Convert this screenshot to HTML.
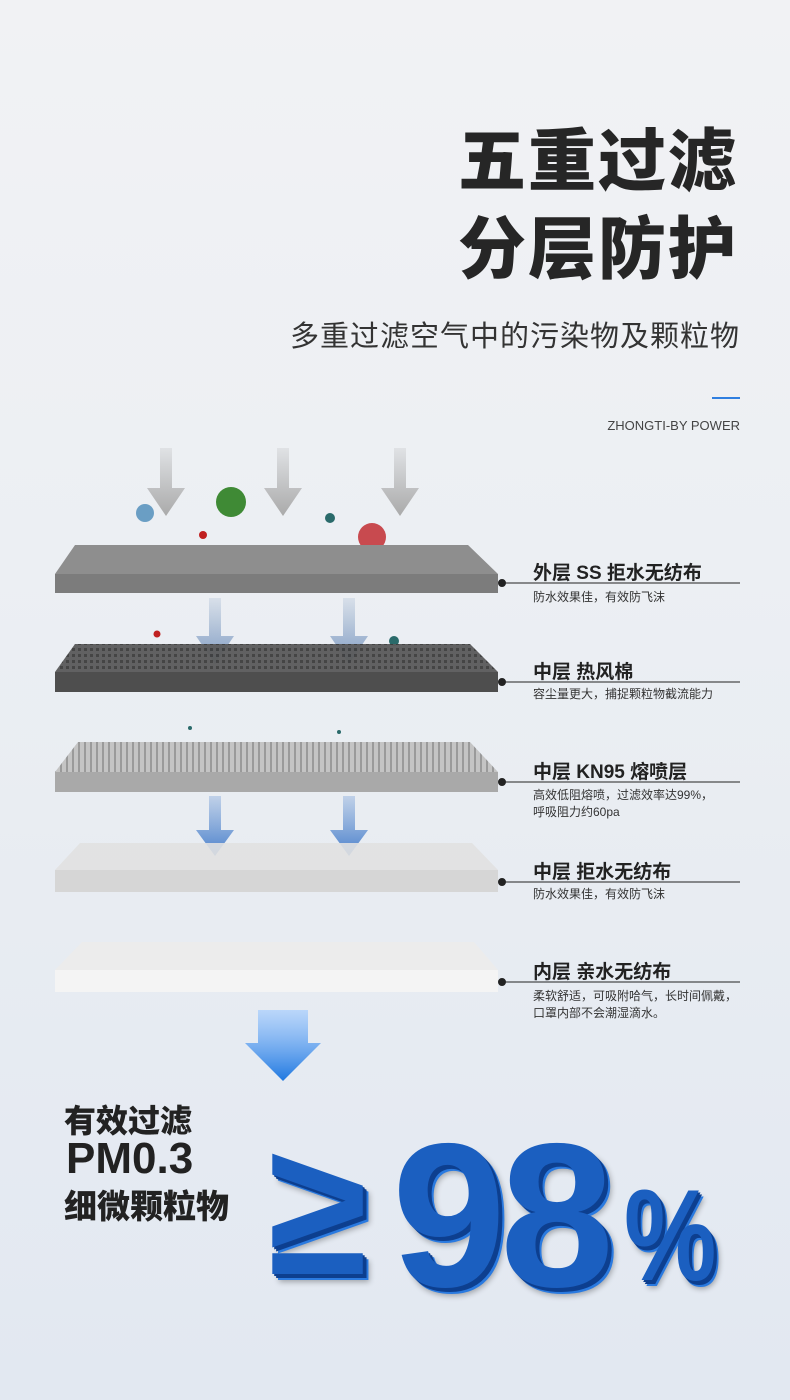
<!DOCTYPE html>
<html><head><meta charset="utf-8"><style>
body{margin:0;width:790px;height:1400px;overflow:hidden;background:linear-gradient(180deg,#f1f2f4 0%,#eceff3 40%,#e2e8f1 100%);font-family:"Liberation Sans","Noto Sans CJK SC",sans-serif;position:relative}
.a{position:absolute;white-space:nowrap}
.t{font-size:68px;font-weight:900;color:#262626;right:52px;letter-spacing:2px}
.lab{left:533px;font-size:19px;font-weight:bold;color:#222}
.desc{left:533px;font-size:12px;color:#333;line-height:17px}
.big{font-weight:900;color:#1b5fc0;font-family:"Liberation Sans",sans-serif;text-shadow:2px 2px 0 #0d3f8f,4px 4px 0 #0d3f8f,6px 6px 0 #2a7ae0,7px 8px 6px rgba(0,0,0,.3)}
</style></head><body>
<div class="a t" style="top:106px">五重过滤</div>
<div class="a t" style="top:194px">分层防护</div>
<div class="a" style="right:50px;top:313px;font-size:29px;color:#333;letter-spacing:1px">多重过滤空气中的污染物及颗粒物</div>
<div class="a" style="left:712px;top:397px;width:28px;height:2px;background:#2f7fe0"></div>
<div class="a" style="right:50px;top:418px;font-size:13px;color:#444">ZHONGTI-BY POWER</div>

<svg class="a" style="left:0;top:0" width="790" height="1400">
<defs>
<linearGradient id="ga" x1="0" y1="0" x2="0" y2="1"><stop offset="0" stop-color="#aaa" stop-opacity=".2"/><stop offset="1" stop-color="#aaa"/></linearGradient>
<linearGradient id="gb" x1="0" y1="0" x2="0" y2="1"><stop offset="0" stop-color="#8aa3c4" stop-opacity=".2"/><stop offset="1" stop-color="#7f9cc4"/></linearGradient>
<linearGradient id="gc" x1="0" y1="0" x2="0" y2="1"><stop offset="0" stop-color="#5f8fd0" stop-opacity=".3"/><stop offset="1" stop-color="#4a80cc"/></linearGradient>
<linearGradient id="gd" x1="0" y1="0" x2="0" y2="1"><stop offset="0" stop-color="#9cc8ff" stop-opacity=".6"/><stop offset="1" stop-color="#1f78e0"/></linearGradient>
<pattern id="st" width="6" height="10" patternUnits="userSpaceOnUse"><rect width="6" height="10" fill="#c4c4c4"/><rect width="2" height="10" fill="#9a9a9a"/></pattern>
<pattern id="wv" width="6" height="6" patternUnits="userSpaceOnUse"><rect width="6" height="6" fill="#5a5a5a"/><rect width="3" height="3" fill="#3c3c3c"/></pattern>
</defs>
<g fill="url(#ga)">
<path d="M160 448h12v40h13l-19 28-19-28h13z"/>
<path d="M277 448h12v40h13l-19 28-19-28h13z"/>
<path d="M394 448h12v40h13l-19 28-19-28h13z"/>
</g>
<circle cx="145" cy="513" r="9" fill="#6a9ec4"/>
<circle cx="231" cy="502" r="15" fill="#3f8a35"/>
<circle cx="330" cy="518" r="5" fill="#2a6a6a"/>
<circle cx="372" cy="537" r="14" fill="#c84a4f"/>
<circle cx="203" cy="535" r="4" fill="#c02020"/>
<circle cx="157" cy="634" r="3.5" fill="#c02020"/>
<circle cx="394" cy="641" r="5" fill="#2a6a6a"/>
<polygon points="75,545 468,545 498,574 55,574" fill="#8e8e8e"/>
<rect x="55" y="574" width="443" height="19" fill="#7c7c7c"/>
<g fill="url(#gb)"><path d="M209 598h12v38h13l-19 28-19-28h13z"/><path d="M343 598h12v38h13l-19 28-19-28h13z"/></g>
<polygon points="75,644 470,644 498,672 55,672" fill="url(#wv)" opacity=".95"/>
<rect x="55" y="672" width="443" height="20" fill="#4e4e4e"/>
<circle cx="190" cy="728" r="2" fill="#2a6a6a"/><circle cx="339" cy="732" r="2" fill="#2a6a6a"/>
<polygon points="78,742 470,742 498,772 55,772" fill="url(#st)"/>
<rect x="55" y="772" width="443" height="20" fill="#a9a9a9"/>
<g fill="url(#gc)"><path d="M209 796h12v34h13l-19 26-19-26h13z"/><path d="M343 796h12v34h13l-19 26-19-26h13z"/></g>
<polygon points="80,843 472,843 498,870 55,870" fill="#e1e1e1" opacity=".9"/>
<rect x="55" y="870" width="443" height="22" fill="#d6d6d6"/>
<polygon points="82,942 474,942 498,970 55,970" fill="#ececec"/>
<rect x="55" y="970" width="443" height="22" fill="#f4f4f4"/>
<path d="M258 1010h50v33h13l-38 38-38-38h13z" fill="url(#gd)"/>
<g stroke="#222" stroke-width="1" fill="#222">
<circle cx="502" cy="583" r="3.5"/><line x1="502" y1="583" x2="740" y2="583"/>
<circle cx="502" cy="682" r="3.5"/><line x1="502" y1="682" x2="740" y2="682"/>
<circle cx="502" cy="782" r="3.5"/><line x1="502" y1="782" x2="740" y2="782"/>
<circle cx="502" cy="882" r="3.5"/><line x1="502" y1="882" x2="740" y2="882"/>
<circle cx="502" cy="982" r="3.5"/><line x1="502" y1="982" x2="740" y2="982"/>
</g>
</svg>

<div class="a lab" style="top:558px">外层 SS 拒水无纺布</div>
<div class="a desc" style="top:589px">防水效果佳，有效防飞沫</div>
<div class="a lab" style="top:657px">中层 热风棉</div>
<div class="a desc" style="top:686px">容尘量更大，捕捉颗粒物截流能力</div>
<div class="a lab" style="top:757px">中层 KN95 熔喷层</div>
<div class="a desc" style="top:787px">高效低阻熔喷，过滤效率达99%，<br>呼吸阻力约60pa</div>
<div class="a lab" style="top:857px">中层 拒水无纺布</div>
<div class="a desc" style="top:886px">防水效果佳，有效防飞沫</div>
<div class="a lab" style="top:957px">内层 亲水无纺布</div>
<div class="a desc" style="top:988px">柔软舒适，可吸附哈气，长时间佩戴，<br>口罩内部不会潮湿滴水。</div>

<div class="a" style="left:64px;top:1096px;font-size:32px;font-weight:900;color:#222">有效过滤</div>
<div class="a" style="left:66px;top:1134px;font-size:44px;font-weight:900;color:#222">PM0.3</div>
<div class="a" style="left:64px;top:1180px;font-size:33px;font-weight:900;color:#222">细微颗粒物</div>
<div class="a big" style="left:268px;top:1100px;font-size:190px;transform:scaleX(.95);transform-origin:left">≥</div>
<div class="a big" style="left:392px;top:1098px;font-size:205px;letter-spacing:-6px">98</div>
<div class="a big" style="left:624px;top:1160px;font-size:130px;transform:scaleX(.8);transform-origin:left">%</div>
</body></html>
